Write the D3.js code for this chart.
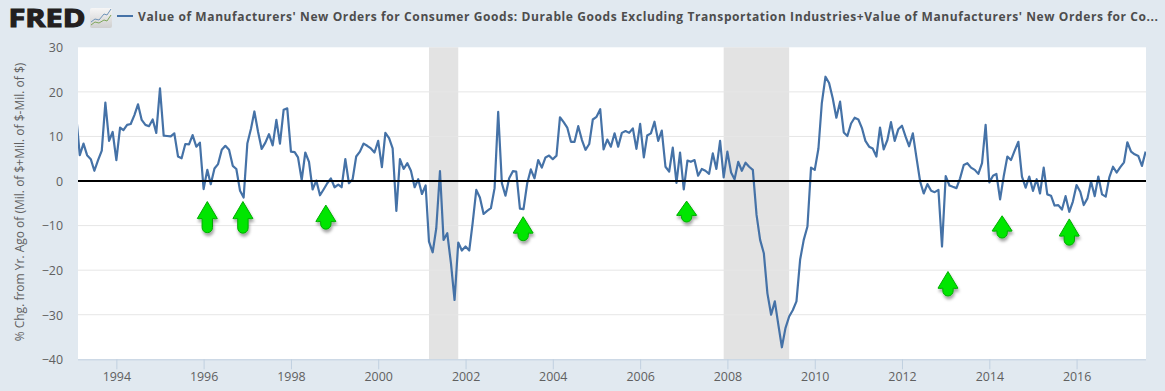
<!DOCTYPE html>
<html><head><meta charset="utf-8">
<script src="https://d3js.org/d3.v7.min.js"></script>
<style>
html,body{margin:0;padding:0;background:#e1e9f0;overflow:hidden}
svg{display:block}
text{font-family:"Open Sans",sans-serif}
</style></head><body>
<svg id="c" width="1165" height="391"></svg>
<script>
const startMonth = "1993-02";
const values = [
14.0,5.8,8.4,5.8,4.9,2.3,4.7,6.8,17.6,9,11,
4.7,12,11.4,12.6,12.8,14.8,17.2,13.7,12.6,12.3,13.8,10.8,
20.8,10.2,10.1,10,10.7,5.5,5.1,8.3,8.2,10.3,7.7,8.6,
-1.8,2.5,-0.7,2.8,3.8,7,7.9,7,3.4,2.7,-2.2,-3.7,
8.4,11.8,15.6,11,7.2,8.6,10.5,8,13.7,8.4,16,16.3,
6.6,6.5,5.3,0.2,6.4,4.3,-1.9,0.1,-3.2,-1.9,-0.5,0.6,
-1.4,-0.8,-1.4,4.9,-0.5,0.4,5.5,6.6,8.4,7.9,7.3,6.4,
9,3.1,10.8,9.6,7.3,-6.7,4.9,2.7,4,2.3,-1.4,0.4,
-2.9,-1,-13.6,-16,-10.6,2.2,-13.2,-11.7,-18.5,-26.7,-13.8,-15.6,
-14.7,-15.6,-9.5,-2,-3.7,-7.4,-6.7,-6.1,-1.6,15.5,-0.5,-3.3,
0.6,2.2,2.1,-6.2,-6.3,-0.5,2.6,0.6,4.7,3,5.3,5.7,
4.9,5.7,14.3,13.2,12,8.8,8.8,12.3,9.2,7,8.3,13.8,
14.4,16.1,7.1,9.3,7.7,10.7,7.7,10.8,11.2,10.8,11.8,7.2,
12.8,5.3,10.2,10.7,13.3,9,11.3,3.2,2.1,7.5,-0.4,6.4,
-1.9,4.6,4.3,4.7,1.2,2.7,2.3,1.6,6.2,2.7,9,0.8,
6.6,1.9,0.4,4.3,2.3,4.1,3.2,2.5,-7.6,-13.2,-16.2,-25.2,
-30,-27,-32,-37.3,-33,-30.4,-29,-27,-17.6,-13.2,-10.2,3,
2.5,7.3,17.4,23.4,22,18.5,14.2,17.8,10.9,10.1,12.9,14.2,
13.8,11.8,9,7.7,7.3,5.5,12,7.1,9.2,13.2,9,11.6,
12.4,9.9,7.8,10.7,5.3,-0.1,-2.8,-0.7,-2.2,-2.5,-2,-14.7,
1.1,-1,-1.3,-1.6,0.6,3.6,4,3,2.5,1.6,4,12.6,
-0.3,1.2,1.6,-4.1,1,5.5,4.7,6.8,8.8,1,-1.5,1,
-2.2,0.4,-2.8,3,-3,-3.3,-5.5,-5.4,-6.4,-3.4,-6.9,-4.6,
-0.9,-2.4,-5.4,-3.9,-0.1,-3.4,1,-3,-3.5,0.8,3.2,1.9,
3.1,4.2,8.7,6.6,6,5.6,3.4,6.6
];
const yTicks = [30,20,10,0,-10,-20,-30,-40];
const xTickYears = [1994,1996,1998,2000,2002,2004,2006,2008,2010,2012,2014,2016];
const recessionStarts = ["2001-03-01","2007-12-01"];
const recessionEnds = ["2001-11-01","2009-06-01"];
const arrowDates = ["1996-02-01","1996-11-25","1998-10-20","2003-04-28","2007-01-25","2013-01-20","2014-04-18","2015-11-01"];
const arrowTips = [-4.6,-4.6,-5.4,-8.0,-4.5,-20.3,-7.8,-8.5];
const arrowTails = [-11.6,-11.7,-10.8,-13.4,-9.2,-25.8,-12.8,-14.4];
const titleText = "Value of Manufacturers' New Orders for Consumer Goods: Durable Goods Excluding Transportation Industries+Value of Manufacturers' New Orders for Co...";
const yAxisTitle = "% Chg. from Yr. Ago of (Mil. of $+Mil. of $-Mil. of $)";

const parseDay = d3.utcParse("%Y-%m-%d");
const svg = d3.select("#c");
const L=78,R=1146,T=47.3,B=359.3;
const x = d3.scaleUtc().domain([new Date(Date.UTC(1993,1,14)),new Date(Date.UTC(2017,7,4))]).range([L,R]);
const y = d3.scaleLinear().domain([-40,30]).range([B,T]);
const base = d3.utcParse("%Y-%m")(startMonth);
const series = values.map((v,i)=>({date:d3.utcMonth.offset(base,i),value:v}));
const defs = svg.append("defs");
defs.append("clipPath").attr("id","plot").append("rect").attr("x",L).attr("y",T-1).attr("width",R-L).attr("height",B-T+2);
const shadow = defs.append("filter").attr("id","sh").attr("x","-40%").attr("y","-40%").attr("width","180%").attr("height","180%");
shadow.append("feDropShadow").attr("dx",1).attr("dy",3).attr("stdDeviation",1.6).attr("flood-color","#000").attr("flood-opacity",.35);
const iconG = defs.append("linearGradient").attr("id","ig").attr("x1",0).attr("y1",0).attr("x2",0).attr("y2",1);
iconG.append("stop").attr("offset",0).attr("stop-color","#f6f6f6");
iconG.append("stop").attr("offset",1).attr("stop-color","#cfcfcf");

svg.append("rect").attr("width",1165).attr("height",391).attr("fill","#e1e9f0");
svg.append("rect").attr("x",L).attr("y",T).attr("width",R-L).attr("height",B-T).attr("fill","#fff");

// recessions
svg.append("g").selectAll("rect").data(recessionStarts).join("rect")
  .attr("x",d=>x(parseDay(d))).attr("y",T)
  .attr("width",(d,i)=>x(parseDay(recessionEnds[i]))-x(parseDay(d)))
  .attr("height",B-T).attr("fill","#e3e3e3");

// y grid + labels
const yAxis = d3.axisLeft(y).tickValues(yTicks).tickSize(0).tickPadding(15).tickFormat(d3.format("d"));
const gy = svg.append("g").attr("transform",`translate(${L},0)`).call(yAxis);
gy.select(".domain").remove();
gy.selectAll("text").attr("font-size",12.4).attr("fill","#606060").attr("font-family",'"Open Sans",sans-serif').attr("dy",".35em");
svg.append("g").selectAll("line").data(yTicks.filter(t=>t!==30&&t!==-40)).join("line")
  .attr("x1",L).attr("x2",R).attr("y1",d=>y(d)).attr("y2",d=>y(d)).attr("stroke","#e6e6e6").attr("stroke-width",1);

// x axis
const xAxis = d3.axisBottom(x).tickValues(xTickYears.map(v=>new Date(Date.UTC(v,0,1)))).tickSize(10).tickPadding(1).tickFormat(d3.utcFormat("%Y"));
const gx = svg.append("g").attr("transform",`translate(0,${B})`).call(xAxis);
gx.select(".domain").attr("stroke","#c0d0e0").attr("d",`M${L},0.5H${R}`);
gx.selectAll("line").attr("stroke","#c0d0e0");
gx.selectAll("text").attr("font-size",12.4).attr("fill","#606060").attr("font-family",'"Open Sans",sans-serif').attr("dy","0.85em");

// series
const line = d3.line().x(d=>x(d.date)).y(d=>y(d.value));
svg.append("path").datum(series).attr("clip-path","url(#plot)").attr("fill","none")
  .attr("stroke","#4572a7").attr("stroke-width",2.2).attr("stroke-linejoin","round").attr("d",line);

// zero line
svg.append("line").attr("x1",L).attr("x2",R).attr("y1",y(0)).attr("y2",y(0)).attr("stroke","#000").attr("stroke-width",2);

// arrows
const arrowPath = (tip,tail)=>{
  const h=tail-tip, hh=Math.min(17,h*.68), sw=5.2, hw=10;
  return `M0,${tip}L${hw},${tip+hh}Q${hw-1},${tip+hh+.6} ${sw},${tip+hh}L${sw},${tail-sw}A${sw},${sw} 0 0 1 ${-sw},${tail-sw}L${-sw},${tip+hh}Q${-hw+1},${tip+hh+.6} ${-hw},${tip+hh}Z`;
};
svg.append("g").selectAll("path").data(arrowDates).join("path")
  .attr("transform",d=>`translate(${x(parseDay(d))},0)`)
  .attr("d",(d,i)=>arrowPath(y(arrowTips[i]),y(arrowTails[i])))
  .attr("fill","#00e600").attr("stroke","#00ab00").attr("stroke-width",1).attr("stroke-linejoin","round").attr("filter","url(#sh)");

// y title
svg.append("text").attr("transform","translate(24,202) rotate(-90)").attr("text-anchor","middle")
  .attr("font-size",12).attr("fill","#606060").text(yAxisTitle);

// logo
svg.append("text").attr("x",8.5).attr("y",26.7).attr("textLength",77).attr("lengthAdjust","spacingAndGlyphs")
  .attr("font-family",'"Liberation Sans",sans-serif').attr("font-weight",700).attr("font-size",24.5)
  .attr("fill","#231f20").attr("stroke","#231f20").attr("stroke-width",1.1).text("FRED");
svg.append("rect").attr("x",90).attr("y",8).attr("width",22).attr("height",20).attr("rx",2).attr("fill","url(#ig)");
svg.append("path").attr("d","M91,22L95,19L99,20L104,14L107,15L111,9").attr("fill","none").attr("stroke","#6f94b8").attr("stroke-width",1);
svg.append("path").attr("d","M91,25L95,22L99,23L104,20L107,21L111,15").attr("fill","none").attr("stroke","#7fa65a").attr("stroke-width",1);

// legend + title
svg.append("line").attr("x1",117).attr("x2",133).attr("y1",16).attr("y2",16).attr("stroke","#4572a7").attr("stroke-width",2);
svg.append("text").attr("x",138).attr("y",21).attr("font-size",12).attr("font-weight",700).attr("fill","#4d4d4d")
  .attr("textLength",1020).attr("lengthAdjust","spacing").text(titleText);
</script>
</body></html>
